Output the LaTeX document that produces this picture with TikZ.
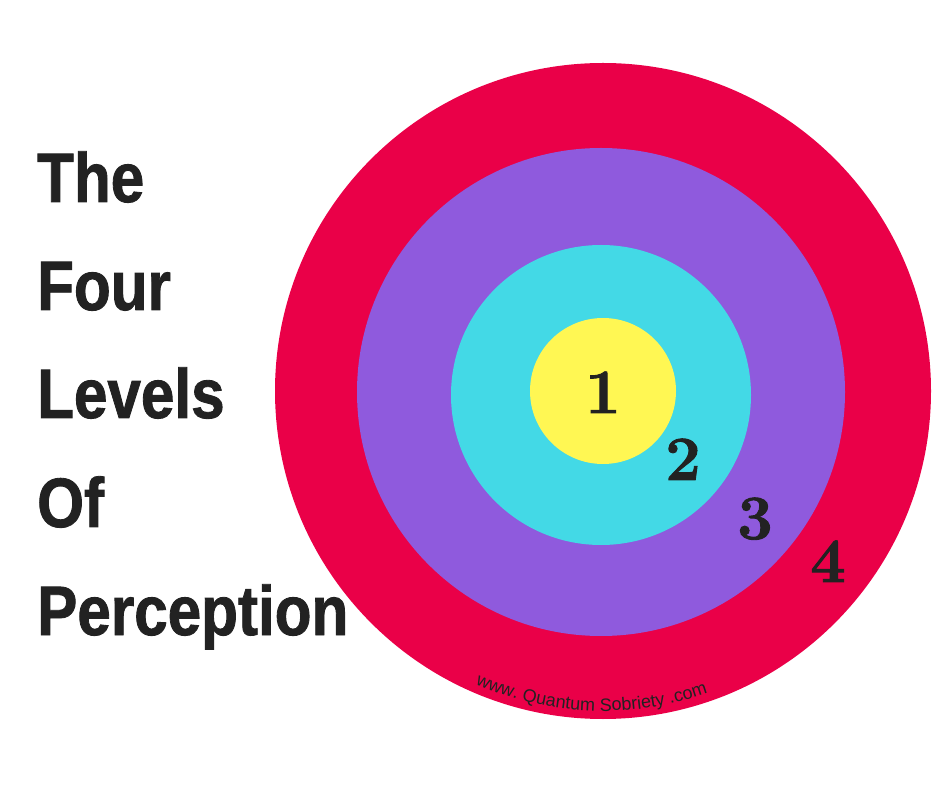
\documentclass[tikz,border=0pt]{standalone}
\usepackage{fontspec}
\usepackage{xcolor}
\usepackage{tikz}
\usetikzlibrary{decorations.text}

\newfontfamily\titlefont[FakeStretch=0.86,BoldFeatures={FakeBold=1.2}]{Liberation Sans}
\newfontfamily\numfont[BoldFeatures={FakeBold=1.5}]{Latin Modern Roman}
\newfontfamily\webfont{Liberation Sans}

\definecolor{ringred}{HTML}{EA0048}
\definecolor{ringpurple}{HTML}{8F5ADD}
\definecolor{ringcyan}{HTML}{43D9E6}
\definecolor{ringyellow}{HTML}{FFF753}
\definecolor{inkgray}{HTML}{222222}

\tikzset{
	titleline/.style={anchor=base west,inner sep=0pt,text=inkgray,font=\titlefont\bfseries\fontsize{70}{70}\selectfont},
	ringnum/.style={anchor=base,inner sep=0pt,text=inkgray,font=\numfont\fontsize{63}{63}\selectfont\bfseries}
}

\begin{document}
\begin{tikzpicture}[x=1pt,y=1pt]
	\useasboundingbox (0,0) rectangle (940,788);
	
	% the target, outside in
	\fill[ringred] (603,397) circle (328);
	\fill[ringpurple] (601,396) circle (244);
	\fill[ringcyan] (601,393) circle (150);
	\fill[ringyellow] (603,397) circle (73);
	
	% levels
	\node[ringnum] (one) at (603,375) {1};
	\node[ringnum] (two) at (683,308) {2};
	\node[ringnum] (three) at (755,249) {3};
	\node[ringnum] (four) at (828,206) {4};
	
	% title
	\node[titleline] (the) at (37,586) {The};
	\node[titleline] (fourw) at (37,478) {Four};
	\node[titleline] (levels) at (37,370) {Levels};
	\node[titleline] (of) at (37,261) {Of};
	\node[titleline] (perception) at (37,153) {Perception};
	
	% web address round the bottom
	\path[decorate,decoration={text along path,text color=inkgray,text align=left,
		text={|\webfont\fontsize{18}{18}\selectfont|www. Quantum Sobriety .com}}]
		(603,397) ++(246.5:320) arc (246.5:300:320);
\end{tikzpicture}
\end{document}
